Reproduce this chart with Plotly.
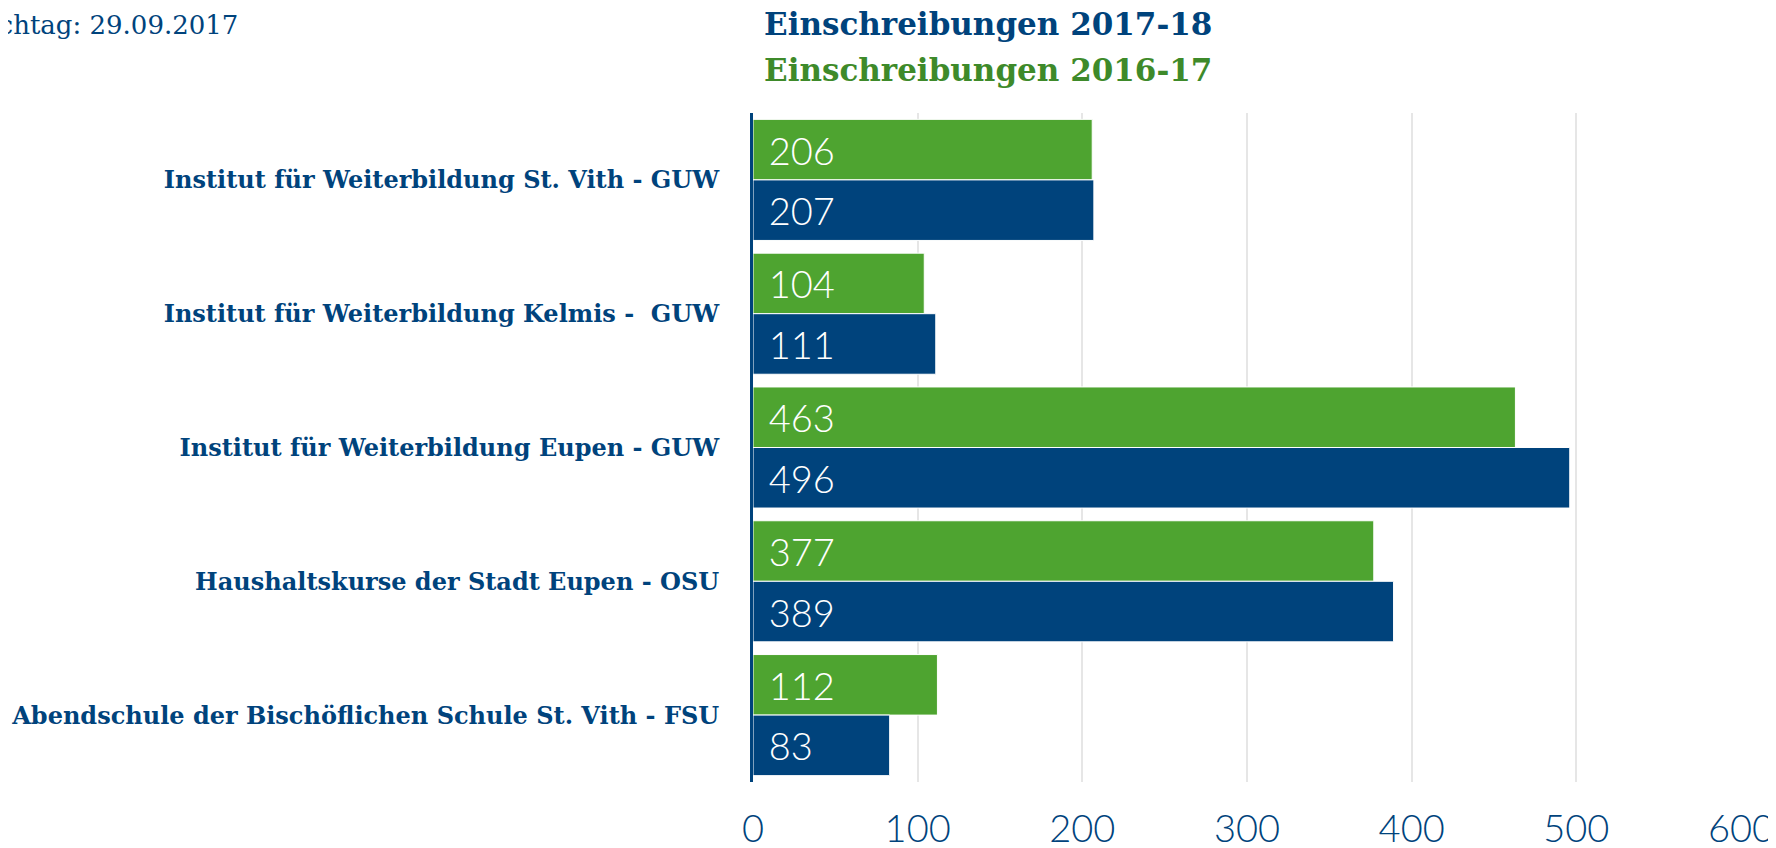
import plotly.graph_objects as go

categories = [
    "Institut für Weiterbildung St. Vith - GUW",
    "Institut für Weiterbildung Kelmis -  GUW",
    "Institut für Weiterbildung Eupen - GUW",
    "Haushaltskurse der Stadt Eupen - OSU",
    "Abendschule der Bischöflichen Schule St. Vith - FSU",
]
values_2016_17 = [206, 104, 463, 377, 112]
values_2017_18 = [207, 111, 496, 389, 83]
series_names = ["Einschreibungen 2016-17", "Einschreibungen 2017-18"]
tick_values = [0, 100, 200, 300, 400, 500, 600]
stichtag = "Stichtag: 29.09.2017"

BLUE = "#00437C"
GREEN = "#4EA430"
GREEN_TITLE = "#3E8A2A"

# page body has an 8px margin, so the figure is sized to fit the window
W, H = 1768, 840
ML, MR, MT, MB = 745, 35, 105, 66
PW = W - ML - MR
PH = H - MT - MB

fig = go.Figure()
for vals, name, col in [(values_2016_17, series_names[0], GREEN),
                        (values_2017_18, series_names[1], BLUE)]:
    fig.add_trace(go.Bar(
        y=categories, x=vals, name=name, orientation="h",
        marker=dict(color=col, line=dict(color="white", width=1)),
        text=vals, texttemplate="\u2004%{x}", textposition="inside",
        insidetextanchor="start",
        textfont=dict(family="Lato", size=38, color="white", weight=300),
        hoverinfo="skip",
    ))

def px_to_paper_x(px):
    return (px - ML) / PW

def px_to_paper_y(py):
    return 1 + (MT - py) / PH

annotations = [
    dict(text=series_names[1], x=px_to_paper_x(980), y=px_to_paper_y(16),
         xref="paper", yref="paper", xanchor="center", yanchor="middle",
         showarrow=False,
         font=dict(family="DejaVu Serif", size=31, color=BLUE, weight="bold")),
    dict(text=series_names[0], x=px_to_paper_x(980), y=px_to_paper_y(62),
         xref="paper", yref="paper", xanchor="center", yanchor="middle",
         showarrow=False,
         font=dict(family="DejaVu Serif", size=31, color=GREEN_TITLE, weight="bold")),
    dict(text=stichtag, x=px_to_paper_x(232), y=px_to_paper_y(17),
         xref="paper", yref="paper", xanchor="right", yanchor="middle",
         showarrow=False,
         font=dict(family="DejaVu Serif", size=26, color=BLUE)),
]

fig.update_layout(
    width=W, height=H,
    margin=dict(l=ML, r=MR, t=MT, b=MB, pad=0, autoexpand=False),
    barmode="group", bargap=0.095, bargroupgap=0.0,
    plot_bgcolor="white", paper_bgcolor="white",
    showlegend=False,
    annotations=annotations,
    xaxis=dict(
        range=[0, 600], tickvals=tick_values, ticktext=[str(t) for t in tick_values],
        showgrid=True, gridcolor="#E6E6E6", gridwidth=2,
        zeroline=False, showline=False, ticks="", automargin=False,
        tickfont=dict(family="Lato", size=38, color=BLUE, weight=300),
        ticklabelstandoff=21,
    ),
    yaxis=dict(
        autorange="reversed", showgrid=False, zeroline=False,
        showline=True, linecolor=BLUE, linewidth=3, ticks="", automargin=False,
        tickfont=dict(family="DejaVu Serif", size=24, color=BLUE, weight="bold"),
        ticklabelstandoff=26,
    ),
)

fig.write_html("out.html")
